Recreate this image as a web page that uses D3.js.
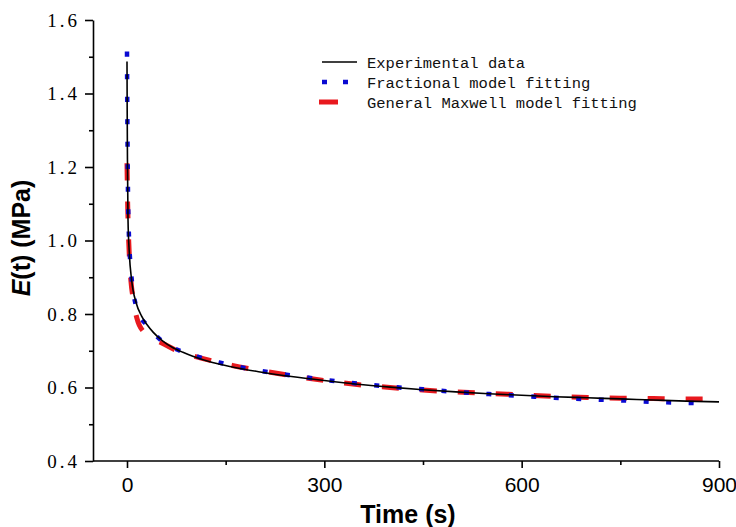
<!DOCTYPE html>
<html>
<head>
    <meta charset="utf-8">
    <script src="https://d3js.org/d3.v7.min.js"></script>
    <style>
        body { margin: 0; background: #fff; }
    </style>
</head>
<body>
<svg width="736" height="527" id="mainSvg"></svg>
<script>
    // time (s) and E(t) (MPa)
    const expTime = [0, 0.3, 0.7, 1.5, 3.5, 7, 14, 22, 30, 40, 54, 70, 85, 100, 130, 160, 200, 250, 300, 350, 400, 450, 500, 550, 600, 650, 700, 750, 800, 850, 900];
    const expE = [1.487, 1.35, 1.22, 1.06, 0.966, 0.893, 0.83, 0.795, 0.772, 0.75, 0.727, 0.708, 0.696, 0.685, 0.668, 0.656, 0.643, 0.630, 0.619, 0.609, 0.601, 0.594, 0.588, 0.583, 0.579, 0.575, 0.572, 0.569, 0.566, 0.563, 0.561];

    const fracTime = [0, 0.3, 0.8, 1.5, 3, 5, 8, 13, 18, 30, 54, 85, 100, 140, 200, 250, 300, 350, 400, 450, 500, 550, 600, 650, 700, 750, 800, 850, 880];
    const fracE = [1.514, 1.40, 1.27, 1.13, 1.01, 0.94, 0.88, 0.827, 0.80, 0.77, 0.725, 0.697, 0.688, 0.668, 0.646, 0.633, 0.621, 0.611, 0.602, 0.595, 0.588, 0.582, 0.577, 0.572, 0.568, 0.565, 0.561, 0.558, 0.557];

    const maxTime = [0, 1, 2, 3.5, 6, 9, 15, 27, 40, 53, 84, 100, 130, 160, 200, 250, 300, 350, 400, 450, 500, 550, 600, 650, 700, 750, 800, 850, 892];
    const maxE = [1.21, 1.10, 1.03, 0.96, 0.89, 0.845, 0.789, 0.748, 0.732, 0.721, 0.694, 0.686, 0.672, 0.660, 0.647, 0.632, 0.619, 0.608, 0.600, 0.593, 0.588, 0.584, 0.580, 0.576, 0.573, 0.571, 0.570, 0.569, 0.569];

    const xMajor = [0, 300, 600, 900];
    const xMinor = [150, 450, 750];
    const yMajor = [0.4, 0.6, 0.8, 1.0, 1.2, 1.4, 1.6];
    const yMinor = [0.5, 0.7, 0.9, 1.1, 1.3, 1.5];

    const seriesNames = ["Experimental data", "Fractional model fitting", "General Maxwell model fitting"];

    const svg = d3.select("#mainSvg");

    const xScale = d3.scaleLinear().domain([0, 900]).range([127, 719]);
    const yScale = d3.scaleLinear().domain([0.4, 1.6]).range([461, 20]);
    const axisLeftX = 93;

    // axes
    const xAxis = d3.axisBottom(xScale).tickValues(xMajor).tickSize(7).tickSizeOuter(0).tickFormat(d3.format("d"));
    const xAxisMinor = d3.axisBottom(xScale).tickValues(xMinor).tickSize(4).tickSizeOuter(0).tickFormat("");
    const yAxis = d3.axisLeft(yScale).tickValues(yMajor).tickSize(8).tickSizeOuter(0).tickFormat(d3.format(".1f"));
    const yAxisMinor = d3.axisLeft(yScale).tickValues(yMinor).tickSize(4).tickSizeOuter(0).tickFormat("");

    const gx = svg.append("g").attr("transform", `translate(0, ${yScale(0.4)})`).call(xAxis);
    svg.append("g").attr("transform", `translate(0, ${yScale(0.4)})`).call(xAxisMinor)
        .select(".domain").remove();
    gx.select(".domain").attr("d", `M${axisLeftX},0H${xScale(900)}`);
    gx.selectAll("text")
        .attr("y", 16)
        .attr("font-family", "'Liberation Sans Narrow', 'Arial Narrow', sans-serif")
        .attr("font-size", 21)
        .attr("fill", "#000");

    const gy = svg.append("g").attr("transform", `translate(${axisLeftX}, 0)`).call(yAxis);
    svg.append("g").attr("transform", `translate(${axisLeftX}, 0)`).call(yAxisMinor)
        .select(".domain").remove();
    gy.selectAll("text")
        .attr("x", -13)
        .attr("font-family", "'Liberation Serif', 'DejaVu Serif', serif")
        .attr("font-size", 19)
        .attr("letter-spacing", "3px")
        .attr("fill", "#000");

    svg.selectAll(".domain, .tick line").attr("stroke", "#000").attr("stroke-width", 1.6);

    // axis titles
    svg.append("text")
        .attr("x", 408).attr("y", 523)
        .attr("text-anchor", "middle")
        .attr("font-family", "'Liberation Sans', Arial, sans-serif")
        .attr("font-weight", "bold").attr("font-size", 25)
        .text("Time (s)");

    const yTitle = svg.append("text")
        .attr("transform", "translate(30, 238) rotate(-90)")
        .attr("text-anchor", "middle")
        .attr("font-family", "'Liberation Sans', Arial, sans-serif")
        .attr("font-weight", "bold").attr("font-size", 25);
    yTitle.append("tspan").attr("font-style", "italic").text("E");
    yTitle.append("tspan").text("(t) (MPa)");

    // curves
    const line = d3.line()
        .x(d => xScale(d[0]))
        .y(d => yScale(d[1]))
        .curve(d3.curveMonotoneX);

    const styles = [
        { color: "#000000", width: 1.6, dash: null },
        { color: "#0a0ad2", width: 4.5, dash: "5,17.5" },
        { color: "#e8191e", width: 5, dash: "17,21" }
    ];
    const series = [
        d3.zip(expTime, expE),
        d3.zip(fracTime, fracE),
        d3.zip(maxTime, maxE)
    ];

    // draw Maxwell first, then fractional, then experimental on top
    [2, 1, 0].forEach(i => {
        svg.append("path")
            .datum(series[i])
            .attr("fill", "none")
            .attr("stroke", styles[i].color)
            .attr("stroke-width", styles[i].width)
            .attr("stroke-dasharray", styles[i].dash)
            .attr("d", line);
    });

    // legend
    const legend = svg.append("g").attr("transform", "translate(320, 62)");
    const legendDash = [null, "5,16", "19,30"];
    seriesNames.forEach((name, i) => {
        const row = legend.append("g").attr("transform", `translate(0, ${i * 20})`);
        row.append("line")
            .attr("x1", i === 2 ? -1 : 2).attr("x2", 37)
            .attr("y1", 0).attr("y2", 0)
            .attr("stroke", styles[i].color)
            .attr("stroke-width", styles[i].width)
            .attr("stroke-dasharray", legendDash[i]);
        row.append("text")
            .attr("x", 47).attr("y", 6)
            .attr("font-family", "'Liberation Mono', 'DejaVu Sans Mono', monospace")
            .attr("font-size", 15.5)
            .attr("fill", "#111")
            .text(name);
    });
</script>
</body>
</html>
